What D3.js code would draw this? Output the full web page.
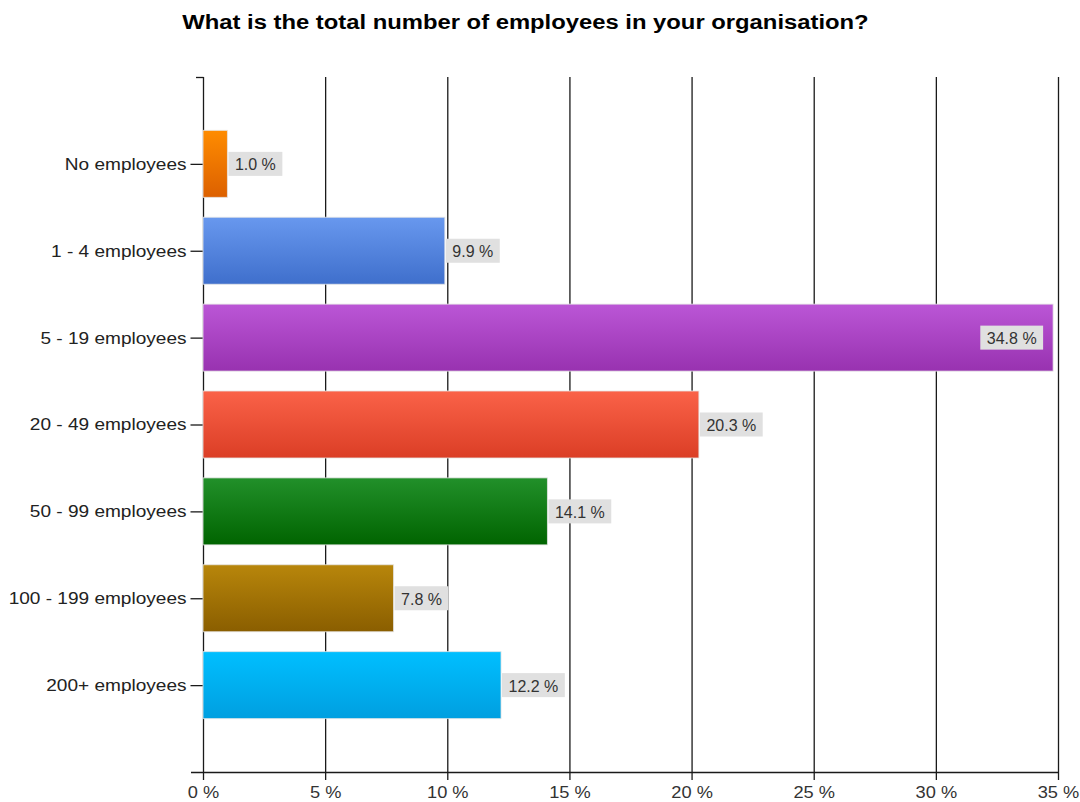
<!DOCTYPE html>
<html>
<head>
<meta charset="utf-8">
<script src="https://cdn.jsdelivr.net/npm/d3@7"></script>
<style>
  html, body { margin: 0; padding: 0; background: #fff; }
  svg { display: block; font-family: Arial, "Liberation Sans", sans-serif; }
</style>
</head>
<body>
<svg id="chart" width="1080" height="802"></svg>
<script>
// Survey question: organisation size
const title = "What is the total number of employees in your organisation?";
const categories = ["No employees", "1 - 4 employees", "5 - 19 employees", "20 - 49 employees",
                    "50 - 99 employees", "100 - 199 employees", "200+ employees"];
const values = [1.0, 9.9, 34.8, 20.3, 14.1, 7.8, 12.2];
const tickValues = [0, 5, 10, 15, 20, 25, 30, 35];
const topColors = ["#ff8c00", "#6898ee", "#bb56d6", "#fa6248", "#22902a", "#b8860b", "#00bfff"];
const bottomColors = ["#dc6000", "#3f6fcc", "#9832b0", "#db3e26", "#006400", "#8a5e00", "#009fe0"];

const svg = d3.select("#chart");
const plotLeft = 203, plotRight = 1058, plotTop = 77, plotBottom = 772;
const FONT = "Arial, 'Liberation Sans', sans-serif";

const x = d3.scaleLinear().domain([0, 35]).range([plotLeft, plotRight]);
const y = d3.scalePoint().domain(categories).range([plotTop, plotBottom]).padding(1);
const barH = 67;

// widen a text element horizontally by a factor (keeps its anchor)
function widen(sel, k) {
  sel.each(function () {
    const len = this.getComputedTextLength();
    d3.select(this).attr("textLength", len * k).attr("lengthAdjust", "spacingAndGlyphs");
  });
}

// gradients, lighter at the top of each bar
const defs = svg.append("defs");
categories.forEach((c, i) => {
  const g = defs.append("linearGradient").attr("id", "grad" + i)
    .attr("x1", 0).attr("y1", 0).attr("x2", 0).attr("y2", 1);
  g.append("stop").attr("offset", "0%").attr("stop-color", topColors[i]);
  g.append("stop").attr("offset", "100%").attr("stop-color", bottomColors[i]);
});

// title
svg.append("text")
  .attr("x", 525.5).attr("y", 29)
  .attr("text-anchor", "middle")
  .attr("font-size", 20).attr("font-weight", "bold")
  .attr("fill", "#000")
  .text(title)
  .call(widen, 1.19);

// vertical grid lines (extend below the axis as ticks)
svg.append("g").selectAll("line").data(tickValues).join("line")
  .attr("x1", d => x(d) + 0.5).attr("x2", d => x(d) + 0.5)
  .attr("y1", plotTop).attr("y2", plotBottom + 8)
  .attr("stroke", "#1a1a1a").attr("stroke-width", 1.3);

// bottom axis
const xAxis = d3.axisBottom(x).tickValues(tickValues).tickSize(0).tickPadding(15)
  .tickFormat(d => d + " %");
const gx = svg.append("g").attr("transform", `translate(0,${plotBottom})`).call(xAxis);
gx.select(".domain").remove();
gx.selectAll("text").attr("font-size", 16).attr("fill", "#333")
  .attr("font-family", FONT)
  .call(widen, 1.14);
svg.append("line")
  .attr("x1", 191).attr("x2", plotRight + 0.5)
  .attr("y1", plotBottom + 0.5).attr("y2", plotBottom + 0.5)
  .attr("stroke", "#1a1a1a").attr("stroke-width", 1.3);

// left axis
const yAxis = d3.axisLeft(y).tickSize(13).tickPadding(4);
const gy = svg.append("g").attr("transform", `translate(${plotLeft + 0.5},0)`).call(yAxis);
gy.select(".domain").remove();
gy.selectAll(".tick line").attr("stroke", "#1a1a1a").attr("stroke-width", 1.3);
gy.selectAll("text").attr("font-size", 17).attr("fill", "#222")
  .attr("font-family", FONT)
  .call(widen, 1.12);
svg.append("line")
  .attr("x1", 196).attr("x2", plotLeft + 0.5)
  .attr("y1", plotTop + 0.5).attr("y2", plotTop + 0.5)
  .attr("stroke", "#1a1a1a").attr("stroke-width", 1.3);

// bars
svg.append("g").selectAll("rect").data(values).join("rect")
  .attr("x", x(0))
  .attr("y", (d, i) => y(categories[i]) - barH / 2)
  .attr("width", d => x(d) - x(0))
  .attr("height", barH)
  .attr("fill", (d, i) => `url(#grad${i})`)
  .attr("stroke", "rgba(230,230,230,0.8)").attr("stroke-width", 1);

// value labels in grey boxes
const labels = svg.append("g").selectAll("g").data(values).join("g");
labels.each(function (d, i) {
  const g = d3.select(this);
  const t = g.append("text")
    .attr("font-size", 16).attr("fill", "#333")
    .attr("dominant-baseline", "central")
    .text(d.toFixed(1) + " %");
  const w = t.node().getComputedTextLength() + 13;
  const h = 24;
  const inside = x(d) + w + 4 > plotRight;
  const bx = inside ? x(d) - 10 - w : x(d) + 1;
  const cy = y(categories[i]);
  g.insert("rect", "text")
    .attr("x", bx).attr("y", cy - h / 2)
    .attr("width", w).attr("height", h)
    .attr("fill", "#e0e0e0");
  t.attr("x", bx + 6.5).attr("y", cy + 1);
});
</script>
</body>
</html>
